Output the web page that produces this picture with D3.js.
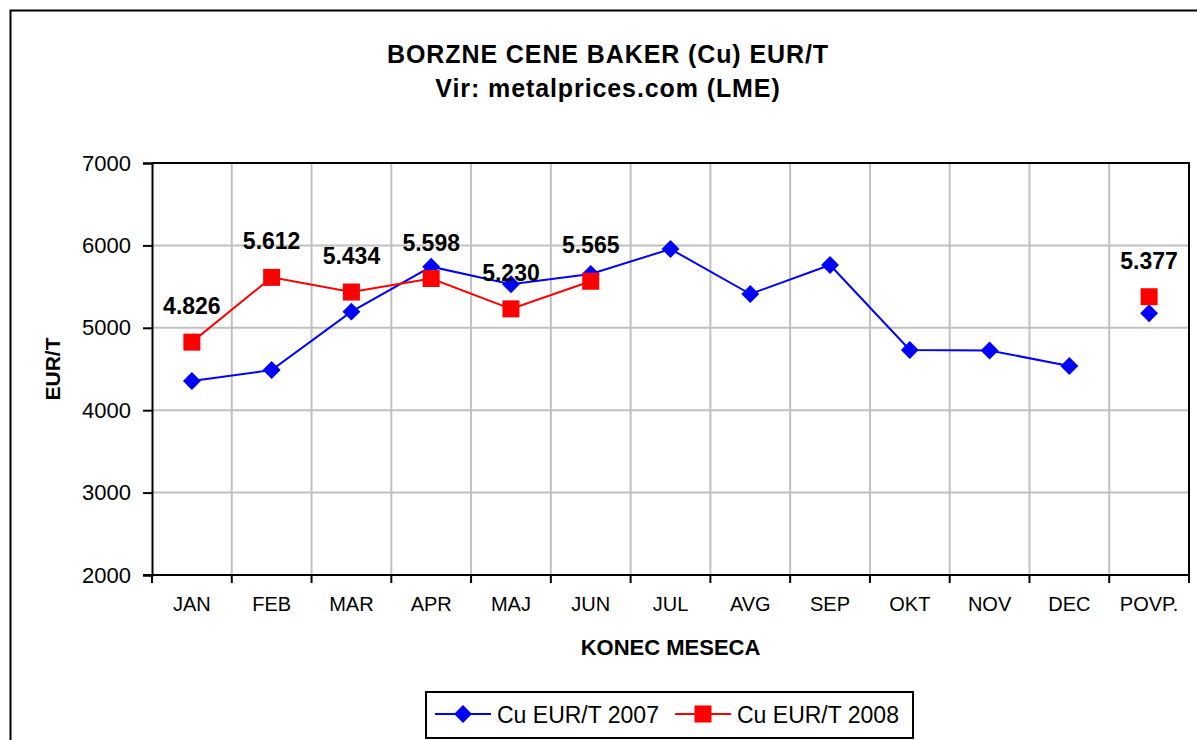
<!DOCTYPE html>
<html>
<head>
<meta charset="utf-8">
<script src="https://cdn.jsdelivr.net/npm/d3@7"></script>
<style>
  body { margin: 0; background: #fff; }
  svg { display: block; font-family: "Liberation Sans", Arial, sans-serif; }
</style>
</head>
<body>
<div id="chart"></div>
<script>
// data
var months = ["JAN","FEB","MAR","APR","MAJ","JUN","JUL","AVG","SEP","OKT","NOV","DEC","POVP."];
var cu2007 = [4354, 4488, 5196, 5742, 5528, 5653, 5956, 5410, 5762, 4731, 4725, 4536];
var cu2008 = [4826, 5612, 5434, 5598, 5230, 5565];
var avg2007 = 5176;
var avg2008 = 5377;
var yTicks = [2000, 3000, 4000, 5000, 6000, 7000];
var seriesNames = ["Cu EUR/T 2007", "Cu EUR/T 2008"];

var width = 1197, height = 740;
var plot = {left: 152, top: 163, right: 1189, bottom: 575};

var svg = d3.select("#chart").append("svg")
    .attr("width", width)
    .attr("height", height);

// outer frame (cut off on the right and bottom)
svg.append("rect")
    .attr("x", 10.5).attr("y", 10.5)
    .attr("width", 1300).attr("height", 900)
    .attr("fill", "none")
    .attr("stroke", "#000")
    .attr("stroke-width", 2);

var x = d3.scaleBand().domain(months).range([plot.left, plot.right]);
var y = d3.scaleLinear().domain([2000, 7000]).range([plot.bottom, plot.top]);
var cx = function(m) { return x(m) + x.bandwidth() / 2; };
var bounds = months.map(function(m) { return x(m); }).concat([plot.right]);

// gridlines
svg.append("g").selectAll("line")
    .data(yTicks.slice(1, -1))
    .enter().append("line")
    .attr("x1", plot.left).attr("x2", plot.right)
    .attr("y1", function(d) { return y(d); })
    .attr("y2", function(d) { return y(d); })
    .attr("stroke", "#c0c0c0").attr("stroke-width", 2);

svg.append("g").selectAll("line")
    .data(bounds.slice(1, -1))
    .enter().append("line")
    .attr("x1", function(d) { return d; }).attr("x2", function(d) { return d; })
    .attr("y1", plot.top).attr("y2", plot.bottom)
    .attr("stroke", "#c0c0c0").attr("stroke-width", 2);

// plot frame top and right
svg.append("path")
    .attr("d", "M" + plot.left + "," + plot.top + "H" + plot.right + "V" + plot.bottom)
    .attr("fill", "none").attr("stroke", "#000").attr("stroke-width", 2);

// y axis
var yAxis = svg.append("g")
    .attr("transform", "translate(" + plot.left + ",0)")
    .call(d3.axisLeft(y).tickValues(yTicks).tickSize(9).tickPadding(12).tickFormat(d3.format("d")));
yAxis.select(".domain").attr("stroke-width", 2);
yAxis.selectAll(".tick line").attr("stroke-width", 2);
yAxis.selectAll("text").style("font-size", "22px").attr("fill", "#000");

// x axis
svg.append("line")
    .attr("x1", plot.left - 9).attr("x2", plot.right)
    .attr("y1", plot.bottom).attr("y2", plot.bottom)
    .attr("stroke", "#000").attr("stroke-width", 2);
svg.append("g").selectAll("line")
    .data(bounds)
    .enter().append("line")
    .attr("x1", function(d) { return d; }).attr("x2", function(d) { return d; })
    .attr("y1", plot.bottom).attr("y2", plot.bottom + 8)
    .attr("stroke", "#000").attr("stroke-width", 2);
var xAxis = svg.append("g")
    .attr("transform", "translate(0," + plot.bottom + ")")
    .call(d3.axisBottom(x).tickSize(0).tickPadding(22));
xAxis.select(".domain").remove();
xAxis.selectAll("text").style("font-size", "20px").attr("fill", "#000");

// axis titles
svg.append("text")
    .attr("x", (plot.left + plot.right) / 2).attr("y", 655)
    .attr("text-anchor", "middle")
    .style("font-size", "22px").style("font-weight", "bold")
    .text("KONEC MESECA");

svg.append("text")
    .attr("transform", "translate(60," + ((plot.top + plot.bottom) / 2) + ") rotate(-90)")
    .attr("text-anchor", "middle")
    .style("font-size", "21px").style("font-weight", "bold")
    .text("EUR/T");

// title
svg.append("text")
    .attr("x", 608).attr("y", 63)
    .attr("text-anchor", "middle")
    .style("font-size", "25px").style("font-weight", "bold")
    .style("letter-spacing", "0.9px")
    .text("BORZNE CENE BAKER (Cu) EUR/T");
svg.append("text")
    .attr("x", 608).attr("y", 97)
    .attr("text-anchor", "middle")
    .style("font-size", "25px").style("font-weight", "bold")
    .style("letter-spacing", "0.9px")
    .text("Vir: metalprices.com (LME)");

// series
var line = d3.line()
    .x(function(d, i) { return cx(months[i]); })
    .y(function(d) { return y(d); });

svg.append("path")
    .datum(cu2007)
    .attr("fill", "none").attr("stroke", "#0000ff").attr("stroke-width", 2)
    .attr("d", line);
svg.append("path")
    .datum(cu2008)
    .attr("fill", "none").attr("stroke", "#ff0000").attr("stroke-width", 2)
    .attr("d", line);

var pts2007 = cu2007.map(function(v, i) { return {m: months[i], v: v}; })
    .concat([{m: months[12], v: avg2007}]);
var pts2008 = cu2008.map(function(v, i) { return {m: months[i], v: v}; })
    .concat([{m: months[12], v: avg2008}]);

var diamond = d3.symbol().type(d3.symbolSquare).size(160);
svg.append("g").selectAll("path")
    .data(pts2007)
    .enter().append("path")
    .attr("d", diamond)
    .attr("transform", function(d) { return "translate(" + cx(d.m) + "," + y(d.v) + ") rotate(45)"; })
    .attr("fill", "#0000ff");

svg.append("g").selectAll("rect")
    .data(pts2008)
    .enter().append("rect")
    .attr("x", function(d) { return cx(d.m) - 8.5; })
    .attr("y", function(d) { return y(d.v) - 8.5; })
    .attr("width", 17).attr("height", 17)
    .attr("fill", "#ff0000");

// value labels for 2008
var fmt = function(v) { return d3.format(",")(v).replace(",", "."); };
svg.append("g").selectAll("text")
    .data(pts2008)
    .enter().append("text")
    .attr("x", function(d) { return cx(d.m); })
    .attr("y", function(d) { return y(d.v) - 28; })
    .attr("text-anchor", "middle")
    .style("font-size", "23px").style("font-weight", "bold")
    .text(function(d) { return fmt(d.v); });

// legend
var legend = svg.append("g");
legend.append("rect")
    .attr("x", 426).attr("y", 692)
    .attr("width", 487).attr("height", 46)
    .attr("fill", "#fff").attr("stroke", "#000").attr("stroke-width", 2);

var lx = [435, 675];
lx.forEach(function(x0, i) {
    var col = i == 0 ? "#0000ff" : "#ff0000";
    legend.append("line")
        .attr("x1", x0).attr("x2", x0 + 56)
        .attr("y1", 714).attr("y2", 714)
        .attr("stroke", col).attr("stroke-width", 2);
    if (i == 0) {
        legend.append("path")
            .attr("d", diamond)
            .attr("transform", "translate(" + (x0 + 28) + ",714) rotate(45)")
            .attr("fill", col);
    } else {
        legend.append("rect")
            .attr("x", x0 + 28 - 8.5).attr("y", 714 - 8.5)
            .attr("width", 17).attr("height", 17)
            .attr("fill", col);
    }
    legend.append("text")
        .attr("x", x0 + 62).attr("y", 723)
        .style("font-size", "23px")
        .text(seriesNames[i]);
});
</script>
</body>
</html>
